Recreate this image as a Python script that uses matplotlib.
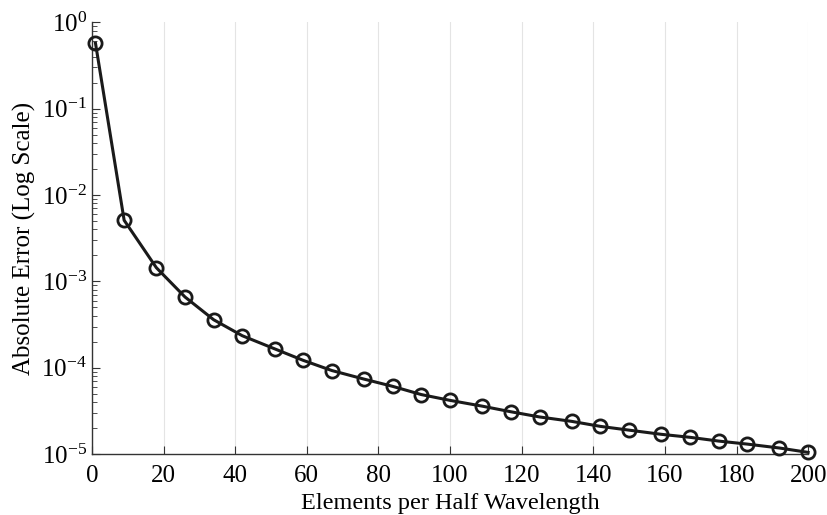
import numpy as np
import matplotlib.pyplot as plt
from matplotlib.ticker import LogLocator, FixedLocator

# data
elements = [1, 9, 18, 26, 34, 42, 51, 59, 67, 76, 84, 92, 100,
            109, 117, 125, 134, 142, 150, 159, 167, 175, 183, 192, 200]
abs_error = [5.7e-1, 5.1e-3, 1.44e-3, 6.6e-4, 3.6e-4, 2.35e-4, 1.66e-4,
             1.22e-4, 9.3e-5, 7.4e-5, 6.1e-5, 4.9e-5, 4.2e-5, 3.6e-5,
             3.1e-5, 2.7e-5, 2.4e-5, 2.1e-5, 1.9e-5, 1.7e-5, 1.57e-5,
             1.42e-5, 1.31e-5, 1.18e-5, 1.05e-5]

x_ticks = [0, 20, 40, 60, 80, 100, 120, 140, 160, 180, 200]

plt.rcParams['font.family'] = ['Liberation Serif', 'DejaVu Serif']
plt.rcParams['mathtext.fontset'] = 'custom'
plt.rcParams['mathtext.rm'] = 'Liberation Serif'

fig = plt.figure(figsize=(8.28, 5.15), dpi=100)
ax = fig.add_axes([0.111, 0.118, 0.865, 0.839])

ax.plot(elements, abs_error, color='#1a1a1a', linewidth=2.2,
        marker='o', markersize=9.5, markerfacecolor='none',
        markeredgewidth=2.0, markeredgecolor='#1a1a1a', clip_on=False, zorder=3)

ax.set_yscale('log')
ax.set_xlim(0, 200)
ax.set_ylim(1e-5, 1e0)
ax.xaxis.set_major_locator(FixedLocator(x_ticks))
ax.yaxis.set_major_locator(LogLocator(base=10, numticks=10))
ax.yaxis.set_minor_locator(LogLocator(base=10, subs=np.arange(2, 10), numticks=10))

ax.grid(True, axis='x', color='#e4e4e4', linewidth=0.8)
ax.set_axisbelow(True)

for s in ['top', 'right']:
    ax.spines[s].set_visible(False)
for s in ['left', 'bottom']:
    ax.spines[s].set_color('#333333')
    ax.spines[s].set_linewidth(1.0)

ax.tick_params(axis='both', which='major', direction='in', length=6,
               labelsize=18, color='#333333')
ax.tick_params(axis='y', which='minor', direction='in', length=3.5, color='#333333')
ax.tick_params(axis='x', which='major', pad=8)

ax.set_xlabel('Elements per Half Wavelength', fontsize=17.5, labelpad=4)
ax.set_ylabel('Absolute Error (Log Scale)', fontsize=18, labelpad=4)

fig.savefig('out.png', dpi=100)
